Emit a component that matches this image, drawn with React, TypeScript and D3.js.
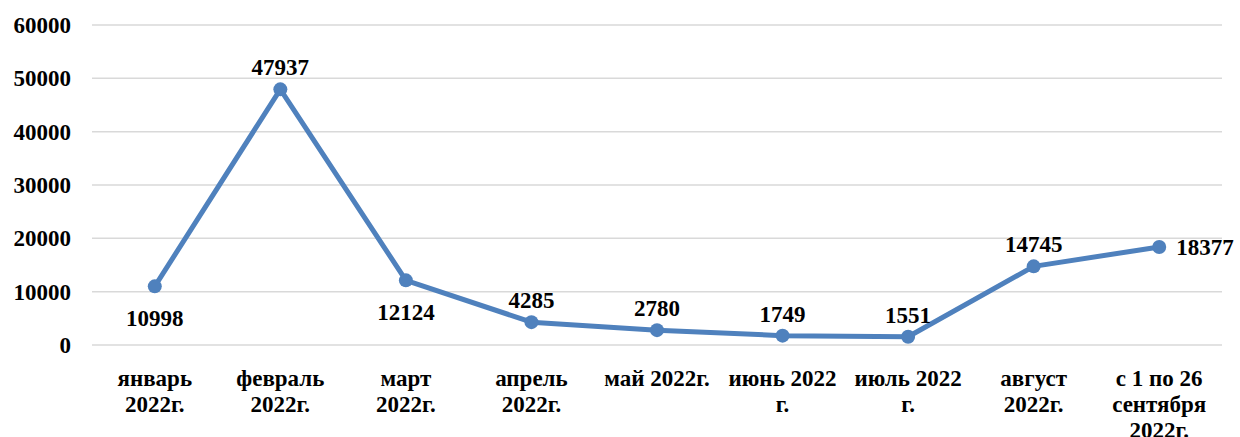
import React from "react";
import * as d3 from "d3";

const categories: string[] = [
  "январь\n2022г.",
  "февраль\n2022г.",
  "март\n2022г.",
  "апрель\n2022г.",
  "май 2022г.",
  "июнь 2022\nг.",
  "июль 2022\nг.",
  "август\n2022г.",
  "с 1 по 26\nсентября\n2022г.",
];
const values: number[] = [10998, 47937, 12124, 4285, 2780, 1749, 1551, 14745, 18377];
const labelPos: string[] = ["below", "above", "below", "above", "above", "above", "above", "above", "right"];
const yTicks: number[] = [0, 10000, 20000, 30000, 40000, 50000, 60000];

const W = 1240;
const H = 437;
const left = 92;
const right = 1222;
const top = 25;
const bottom = 345;
const FONT = "'Liberation Serif', 'Times New Roman', serif";
const BLUE = "#4f81bd";
const txt: React.CSSProperties = { fontFamily: FONT, fontWeight: 700, fontSize: 23 };

export default function App() {
  const x = d3.scaleBand<number>().domain(d3.range(categories.length)).range([left, right]);
  const cx = (i: number) => (x(i) as number) + x.bandwidth() / 2;
  const y = d3.scaleLinear().domain([0, 60000]).range([bottom, top]);
  const line = d3
    .line<number>()
    .x((_, i) => cx(i))
    .y((d) => y(d));

  return (
    <svg width={W} height={H} style={{ position: "absolute", left: 0, top: 0, background: "#fff" }}>
      {yTicks.map((t) => (
        <g key={t}>
          <line x1={left} x2={right} y1={y(t)} y2={y(t)} stroke="#d9d9d9" strokeWidth={1.5} />
          <text x={71} y={y(t) + 8} textAnchor="end" style={txt} fill="#000">
            {t}
          </text>
        </g>
      ))}
      {categories.map((c, i) => (
        <text key={i} x={cx(i)} textAnchor="middle" style={txt} fill="#000">
          {c.split("\n").map((ln, j) => (
            <tspan key={j} x={cx(i)} y={386 + j * 26}>
              {ln}
            </tspan>
          ))}
        </text>
      ))}
      <path d={line(values) || ""} fill="none" stroke={BLUE} strokeWidth={5} strokeLinejoin="round" />
      {values.map((v, i) => (
        <circle key={i} cx={cx(i)} cy={y(v)} r={7} fill={BLUE} />
      ))}
      {values.map((v, i) => {
        const p = labelPos[i];
        let lx = cx(i);
        let ly = y(v);
        let anchor = "middle";
        if (p === "above") ly -= 22;
        else if (p === "below") ly += 32;
        else {
          lx += 17;
          anchor = "start";
        }
        return (
          <text key={i} x={lx} y={ly + 8} textAnchor={anchor} style={txt} fill="#000">
            {v}
          </text>
        );
      })}
    </svg>
  );
}
